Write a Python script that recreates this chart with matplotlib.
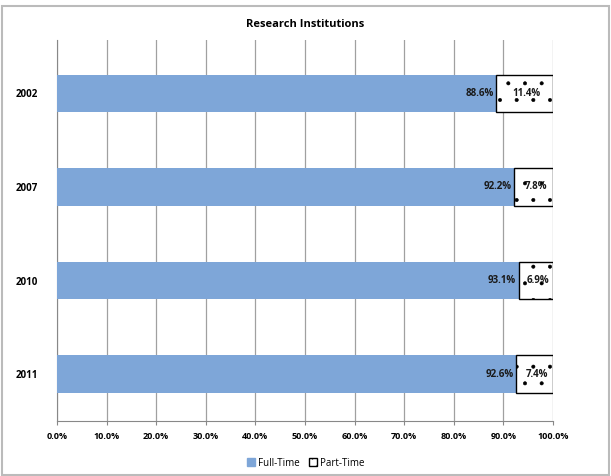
import matplotlib
matplotlib.use("Agg")
import matplotlib.pyplot as plt
import numpy as np

years = ["2002", "2007", "2010", "2011"]
full_time = [88.6, 92.2, 93.1, 92.6]
part_time = [11.4, 7.8, 6.9, 7.4]

plt.rcParams['font.family'] = ['Open Sans', 'DejaVu Sans']
plt.rcParams['hatch.linewidth'] = 0.4

fig = plt.figure(figsize=(6.11, 4.76), dpi=100)
ax = fig.add_axes([57/611, 1 - 421/476, (553 - 57)/611, (421 - 40)/476])

y = np.arange(len(years))
ax.barh(y, full_time, height=0.4, color='#7ea6d8', zorder=3)
ax.barh(y, part_time, left=full_time, height=0.4, color='white',
        edgecolor='black', linewidth=1.0, hatch='. ', zorder=3)

for i in range(len(years)):
    ax.text(full_time[i] - 0.6, y[i], f"{full_time[i]:.1f}%", ha='right', va='center',
            fontsize=7, fontweight='bold', color='#1a1a1a', zorder=4)
    ax.text(full_time[i] + part_time[i] / 2 + 0.4, y[i], f"{part_time[i]:.1f}%", ha='center',
            va='center', fontsize=7, fontweight='bold', color='#1a1a1a', zorder=4)

ax.set_xlim(0, 100)
ax.set_ylim(3.5, -0.57)
ax.set_xticks(np.arange(0, 101, 10))
ax.set_xticklabels([f"{v:.1f}%" for v in range(0, 101, 10)], fontsize=6.5, fontweight='bold')
ax.set_yticks(y)
ax.set_yticklabels(years, fontsize=7, fontweight='bold')
ax.tick_params(axis='y', length=0, pad=14)
ax.tick_params(axis='x', length=3, color='#888888', pad=5)
ax.grid(axis='x', color='#a0a0a0', linewidth=0.9, zorder=0)
for s in ['top', 'right']:
    ax.spines[s].set_visible(False)
ax.spines['left'].set_color('#888888')
ax.spines['bottom'].set_color('#888888')

ax.set_title("Research Institutions", fontsize=8, fontweight='bold', pad=9)

h1 = plt.Rectangle((0, 0), 1, 1, color='#7ea6d8')
h2 = plt.Rectangle((0, 0), 1, 1, facecolor='white', edgecolor='black', hatch='..')
fig.legend([h1, h2], ["Full-Time", "Part-Time"], loc='center', bbox_to_anchor=(0.5, 1 - 463/476),
           ncol=2, frameon=False, fontsize=7, handlelength=0.8, handleheight=0.8,
           handletextpad=0.3, columnspacing=1.0)

fig.patches.append(plt.Rectangle((0.003, 0.003), 0.994, 0.985, transform=fig.transFigure,
                                 fill=False, edgecolor='#bbbbbb', linewidth=1.5))

fig.savefig("out.png", dpi=100)
